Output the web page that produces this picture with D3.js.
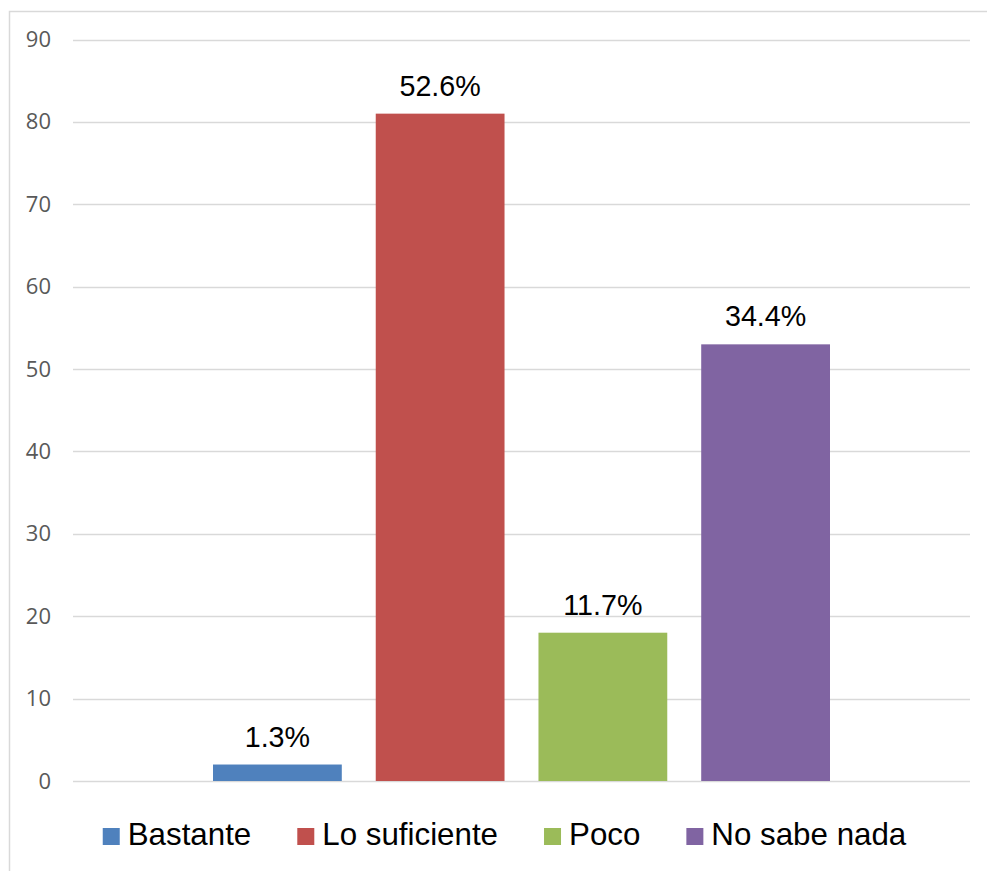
<!DOCTYPE html>
<html>
<head>
<meta charset="utf-8">
<script src="https://cdn.jsdelivr.net/npm/d3@7"></script>
<style>
  html, body { margin: 0; padding: 0; background: #fff; }
  svg { display: block; }
</style>
</head>
<body>
<svg id="chart" width="987" height="871"></svg>
<script>
const categories = ["Bastante", "Lo suficiente", "Poco", "No sabe nada"];
const values = [2, 81, 18, 53];
const labels = ["1.3%", "52.6%", "11.7%", "34.4%"];
const colors = ["#4f81bd", "#c0504d", "#9bbb59", "#8064a2"];
const yTicks = [0, 10, 20, 30, 40, 50, 60, 70, 80, 90];

const svg = d3.select("#chart");

// chart border
svg.append("rect")
  .attr("x", 9.5).attr("y", 11.5)
  .attr("width", 1000).attr("height", 900)
  .attr("fill", "#fff").attr("stroke", "#d9d9d9").attr("stroke-width", 1.5);

const plotLeft = 73, plotRight = 970;
const y = d3.scaleLinear().domain([0, 90]).range([781, 39.5]);
const x = d3.scaleBand().domain(categories).range([213, 830]).paddingInner(0.2086).paddingOuter(0);

// gridlines
svg.append("g").selectAll("line").data(yTicks).join("line")
  .attr("x1", plotLeft).attr("x2", plotRight)
  .attr("y1", d => Math.round(y(d)) + 0.5).attr("y2", d => Math.round(y(d)) + 0.5)
  .attr("stroke", "#d9d9d9").attr("stroke-width", 1.3);

// y axis labels
const yAxis = d3.axisLeft(y).tickValues(yTicks).tickSize(0).tickPadding(0);
const ga = svg.append("g").attr("transform", "translate(51,0)").call(yAxis);
ga.select(".domain").remove();
ga.selectAll("text")
  .attr("fill", "#595959")
  .style("font-family", "'Open Sans', sans-serif")
  .style("font-size", "22px");

// bars
svg.append("g").selectAll("rect").data(values).join("rect")
  .attr("x", (d, i) => x(categories[i]))
  .attr("width", x.bandwidth())
  .attr("y", d => y(d))
  .attr("height", d => y(0) - y(d))
  .attr("fill", (d, i) => colors[i]);

// data labels
svg.append("g").selectAll("text").data(values).join("text")
  .attr("x", (d, i) => x(categories[i]) + x.bandwidth() / 2)
  .attr("y", d => y(d) - 18)
  .attr("text-anchor", "middle")
  .attr("fill", "#000")
  .style("font-family", "'Liberation Sans', Arial, sans-serif")
  .style("font-size", "28.7px")
  .text((d, i) => labels[i]);

// legend
const legend = svg.append("g");
const items = legend.selectAll("g").data(categories).join("g");
items.append("rect")
  .attr("width", 17).attr("height", 17)
  .attr("y", 828)
  .attr("fill", (d, i) => colors[i]);
items.append("text")
  .attr("x", 25).attr("y", 845)
  .attr("fill", "#000")
  .style("font-family", "'Liberation Sans', Arial, sans-serif")
  .style("font-size", "31.3px")
  .text(d => d);
let widths = [];
items.each(function() {
  widths.push(25 + d3.select(this).select("text").node().getComputedTextLength());
});
const gap = 46;
const total = d3.sum(widths) + gap * (widths.length - 1);
let cx = 504.5 - total / 2;
items.each(function(d, i) {
  d3.select(this).attr("transform", `translate(${cx},0)`);
  cx += widths[i] + gap;
});
</script>
</body>
</html>
